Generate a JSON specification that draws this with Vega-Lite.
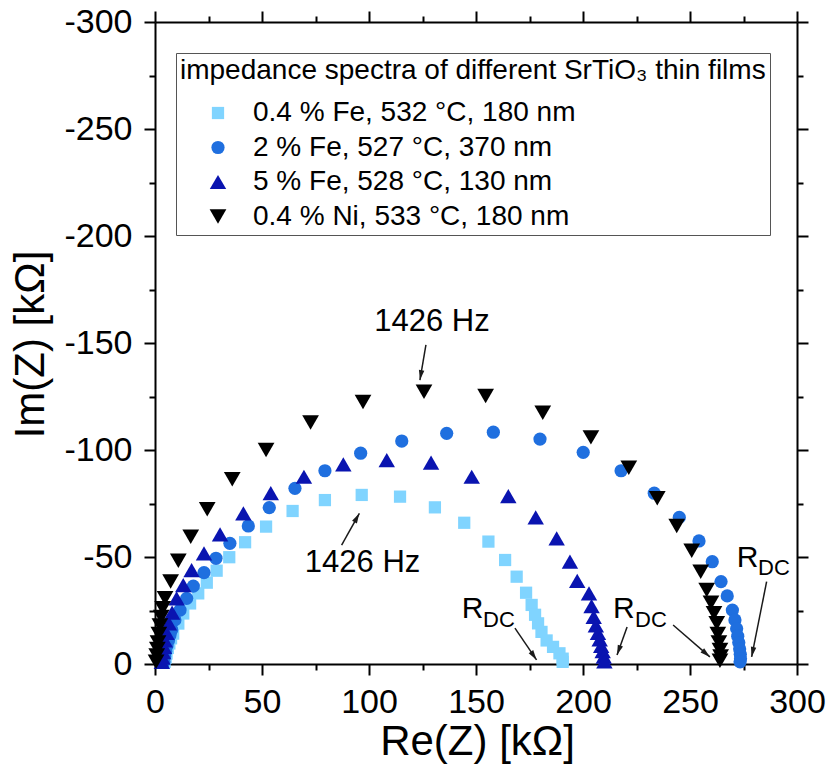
{
  "$schema": "https://vega.github.io/schema/vega-lite/v6.json",
  "width": 642,
  "height": 642,
  "autosize": {"type": "none"},
  "padding": {"left": 155, "top": 22, "right": 34, "bottom": 101},
  "config": {
    "font": "Liberation Sans",
    "view": {"stroke": null},
    "axis": {
      "domainColor": "black", "domainWidth": 2, "tickColor": "black", "tickWidth": 2,
      "labelColor": "black", "labelFontSize": 34, "labelFont": "Liberation Sans",
      "titleFontSize": 42, "titleFontWeight": "normal", "titleColor": "black", "titleFont": "Liberation Sans",
      "grid": false
    }
  },
  "datasets": {
    "points": [
      {"sample": "0.4 % Fe, 532 °C, 180 nm", "re": 4.5, "im": -1},
      {"sample": "0.4 % Fe, 532 °C, 180 nm", "re": 5.0, "im": -3},
      {"sample": "0.4 % Fe, 532 °C, 180 nm", "re": 5.4, "im": -4.9},
      {"sample": "0.4 % Fe, 532 °C, 180 nm", "re": 6.0, "im": -7.5},
      {"sample": "0.4 % Fe, 532 °C, 180 nm", "re": 6.7, "im": -9.6},
      {"sample": "0.4 % Fe, 532 °C, 180 nm", "re": 7.5, "im": -12},
      {"sample": "0.4 % Fe, 532 °C, 180 nm", "re": 8.5, "im": -14.2},
      {"sample": "0.4 % Fe, 532 °C, 180 nm", "re": 10.9, "im": -18.9},
      {"sample": "0.4 % Fe, 532 °C, 180 nm", "re": 13.2, "im": -23.6},
      {"sample": "0.4 % Fe, 532 °C, 180 nm", "re": 16.4, "im": -28.3},
      {"sample": "0.4 % Fe, 532 °C, 180 nm", "re": 20.2, "im": -33},
      {"sample": "0.4 % Fe, 532 °C, 180 nm", "re": 24.2, "im": -38},
      {"sample": "0.4 % Fe, 532 °C, 180 nm", "re": 28.8, "im": -43.6},
      {"sample": "0.4 % Fe, 532 °C, 180 nm", "re": 34.7, "im": -49.9},
      {"sample": "0.4 % Fe, 532 °C, 180 nm", "re": 42.1, "im": -56.9},
      {"sample": "0.4 % Fe, 532 °C, 180 nm", "re": 51.9, "im": -64.2},
      {"sample": "0.4 % Fe, 532 °C, 180 nm", "re": 64.3, "im": -71.5},
      {"sample": "0.4 % Fe, 532 °C, 180 nm", "re": 79.4, "im": -76.6},
      {"sample": "0.4 % Fe, 532 °C, 180 nm", "re": 96.6, "im": -79},
      {"sample": "0.4 % Fe, 532 °C, 180 nm", "re": 114.5, "im": -78.2},
      {"sample": "0.4 % Fe, 532 °C, 180 nm", "re": 130.8, "im": -73.2},
      {"sample": "0.4 % Fe, 532 °C, 180 nm", "re": 144.5, "im": -66},
      {"sample": "0.4 % Fe, 532 °C, 180 nm", "re": 155.8, "im": -57.2},
      {"sample": "0.4 % Fe, 532 °C, 180 nm", "re": 163.6, "im": -48.6},
      {"sample": "0.4 % Fe, 532 °C, 180 nm", "re": 169.0, "im": -40.8},
      {"sample": "0.4 % Fe, 532 °C, 180 nm", "re": 173.4, "im": -33.3},
      {"sample": "0.4 % Fe, 532 °C, 180 nm", "re": 176.0, "im": -27.6},
      {"sample": "0.4 % Fe, 532 °C, 180 nm", "re": 177.6, "im": -23},
      {"sample": "0.4 % Fe, 532 °C, 180 nm", "re": 179.0, "im": -19},
      {"sample": "0.4 % Fe, 532 °C, 180 nm", "re": 180.6, "im": -15},
      {"sample": "0.4 % Fe, 532 °C, 180 nm", "re": 183.0, "im": -11},
      {"sample": "0.4 % Fe, 532 °C, 180 nm", "re": 186.0, "im": -8},
      {"sample": "0.4 % Fe, 532 °C, 180 nm", "re": 189.0, "im": -5},
      {"sample": "0.4 % Fe, 532 °C, 180 nm", "re": 190.5, "im": -2.5},
      {"sample": "0.4 % Fe, 532 °C, 180 nm", "re": 190.5, "im": -1},
      {"sample": "2 % Fe, 527 °C, 370 nm", "re": 4.2, "im": -1},
      {"sample": "2 % Fe, 527 °C, 370 nm", "re": 4.5, "im": -3.5},
      {"sample": "2 % Fe, 527 °C, 370 nm", "re": 5.0, "im": -6},
      {"sample": "2 % Fe, 527 °C, 370 nm", "re": 5.6, "im": -8.5},
      {"sample": "2 % Fe, 527 °C, 370 nm", "re": 6.3, "im": -11},
      {"sample": "2 % Fe, 527 °C, 370 nm", "re": 7.0, "im": -13.5},
      {"sample": "2 % Fe, 527 °C, 370 nm", "re": 7.8, "im": -16},
      {"sample": "2 % Fe, 527 °C, 370 nm", "re": 9.3, "im": -20.6},
      {"sample": "2 % Fe, 527 °C, 370 nm", "re": 11.7, "im": -25.2},
      {"sample": "2 % Fe, 527 °C, 370 nm", "re": 14.8, "im": -30.7},
      {"sample": "2 % Fe, 527 °C, 370 nm", "re": 17.9, "im": -36.4},
      {"sample": "2 % Fe, 527 °C, 370 nm", "re": 22.9, "im": -42.7},
      {"sample": "2 % Fe, 527 °C, 370 nm", "re": 28.5, "im": -49.4},
      {"sample": "2 % Fe, 527 °C, 370 nm", "re": 35.0, "im": -56.4},
      {"sample": "2 % Fe, 527 °C, 370 nm", "re": 43.6, "im": -64.5},
      {"sample": "2 % Fe, 527 °C, 370 nm", "re": 53.4, "im": -73.1},
      {"sample": "2 % Fe, 527 °C, 370 nm", "re": 65.4, "im": -82.1},
      {"sample": "2 % Fe, 527 °C, 370 nm", "re": 79.4, "im": -90.3},
      {"sample": "2 % Fe, 527 °C, 370 nm", "re": 96.1, "im": -98.5},
      {"sample": "2 % Fe, 527 °C, 370 nm", "re": 115.3, "im": -104.2},
      {"sample": "2 % Fe, 527 °C, 370 nm", "re": 136.3, "im": -107.8},
      {"sample": "2 % Fe, 527 °C, 370 nm", "re": 158.1, "im": -108.3},
      {"sample": "2 % Fe, 527 °C, 370 nm", "re": 179.9, "im": -105.1},
      {"sample": "2 % Fe, 527 °C, 370 nm", "re": 200.1, "im": -98.9},
      {"sample": "2 % Fe, 527 °C, 370 nm", "re": 217.8, "im": -90.3},
      {"sample": "2 % Fe, 527 °C, 370 nm", "re": 233.3, "im": -79.8},
      {"sample": "2 % Fe, 527 °C, 370 nm", "re": 245.0, "im": -68.5},
      {"sample": "2 % Fe, 527 °C, 370 nm", "re": 254.2, "im": -57.5},
      {"sample": "2 % Fe, 527 °C, 370 nm", "re": 260.4, "im": -47.8},
      {"sample": "2 % Fe, 527 °C, 370 nm", "re": 264.5, "im": -38.5},
      {"sample": "2 % Fe, 527 °C, 370 nm", "re": 267.4, "im": -31.8},
      {"sample": "2 % Fe, 527 °C, 370 nm", "re": 269.8, "im": -25.2},
      {"sample": "2 % Fe, 527 °C, 370 nm", "re": 271.0, "im": -20.6},
      {"sample": "2 % Fe, 527 °C, 370 nm", "re": 271.8, "im": -16.5},
      {"sample": "2 % Fe, 527 °C, 370 nm", "re": 272.3, "im": -13},
      {"sample": "2 % Fe, 527 °C, 370 nm", "re": 272.8, "im": -10},
      {"sample": "2 % Fe, 527 °C, 370 nm", "re": 273.2, "im": -7},
      {"sample": "2 % Fe, 527 °C, 370 nm", "re": 273.5, "im": -4.5},
      {"sample": "2 % Fe, 527 °C, 370 nm", "re": 273.6, "im": -2.5},
      {"sample": "2 % Fe, 527 °C, 370 nm", "re": 273.4, "im": -1},
      {"sample": "5 % Fe, 528 °C, 130 nm", "re": 3.2, "im": -1},
      {"sample": "5 % Fe, 528 °C, 130 nm", "re": 3.5, "im": -3},
      {"sample": "5 % Fe, 528 °C, 130 nm", "re": 3.8, "im": -5.5},
      {"sample": "5 % Fe, 528 °C, 130 nm", "re": 4.2, "im": -8},
      {"sample": "5 % Fe, 528 °C, 130 nm", "re": 4.6, "im": -11},
      {"sample": "5 % Fe, 528 °C, 130 nm", "re": 5.4, "im": -14.5},
      {"sample": "5 % Fe, 528 °C, 130 nm", "re": 6.5, "im": -19},
      {"sample": "5 % Fe, 528 °C, 130 nm", "re": 8.0, "im": -24},
      {"sample": "5 % Fe, 528 °C, 130 nm", "re": 10.1, "im": -30.7},
      {"sample": "5 % Fe, 528 °C, 130 nm", "re": 13.2, "im": -36.9},
      {"sample": "5 % Fe, 528 °C, 130 nm", "re": 17.1, "im": -43.9},
      {"sample": "5 % Fe, 528 °C, 130 nm", "re": 22.9, "im": -51.7},
      {"sample": "5 % Fe, 528 °C, 130 nm", "re": 30.4, "im": -60.6},
      {"sample": "5 % Fe, 528 °C, 130 nm", "re": 41.3, "im": -70.4},
      {"sample": "5 % Fe, 528 °C, 130 nm", "re": 54.1, "im": -79.8},
      {"sample": "5 % Fe, 528 °C, 130 nm", "re": 69.6, "im": -87.5},
      {"sample": "5 % Fe, 528 °C, 130 nm", "re": 88.0, "im": -93.3},
      {"sample": "5 % Fe, 528 °C, 130 nm", "re": 108.3, "im": -95.3},
      {"sample": "5 % Fe, 528 °C, 130 nm", "re": 129.0, "im": -94.1},
      {"sample": "5 % Fe, 528 °C, 130 nm", "re": 148.0, "im": -87.5},
      {"sample": "5 % Fe, 528 °C, 130 nm", "re": 165.1, "im": -78.5},
      {"sample": "5 % Fe, 528 °C, 130 nm", "re": 177.9, "im": -68.5},
      {"sample": "5 % Fe, 528 °C, 130 nm", "re": 187.7, "im": -58.7},
      {"sample": "5 % Fe, 528 °C, 130 nm", "re": 193.9, "im": -47.8},
      {"sample": "5 % Fe, 528 °C, 130 nm", "re": 197.3, "im": -38.8},
      {"sample": "5 % Fe, 528 °C, 130 nm", "re": 202.8, "im": -33},
      {"sample": "5 % Fe, 528 °C, 130 nm", "re": 204.0, "im": -27},
      {"sample": "5 % Fe, 528 °C, 130 nm", "re": 205.0, "im": -22},
      {"sample": "5 % Fe, 528 °C, 130 nm", "re": 206.0, "im": -18},
      {"sample": "5 % Fe, 528 °C, 130 nm", "re": 207.0, "im": -14.5},
      {"sample": "5 % Fe, 528 °C, 130 nm", "re": 207.8, "im": -11.5},
      {"sample": "5 % Fe, 528 °C, 130 nm", "re": 208.5, "im": -8.5},
      {"sample": "5 % Fe, 528 °C, 130 nm", "re": 209.2, "im": -6},
      {"sample": "5 % Fe, 528 °C, 130 nm", "re": 209.7, "im": -3.5},
      {"sample": "5 % Fe, 528 °C, 130 nm", "re": 210.0, "im": -1.2},
      {"sample": "0.4 % Ni, 533 °C, 180 nm", "re": 0.5, "im": -1},
      {"sample": "0.4 % Ni, 533 °C, 180 nm", "re": 0.8, "im": -4},
      {"sample": "0.4 % Ni, 533 °C, 180 nm", "re": 1.1, "im": -7},
      {"sample": "0.4 % Ni, 533 °C, 180 nm", "re": 1.4, "im": -10},
      {"sample": "0.4 % Ni, 533 °C, 180 nm", "re": 1.8, "im": -14},
      {"sample": "0.4 % Ni, 533 °C, 180 nm", "re": 2.3, "im": -18},
      {"sample": "0.4 % Ni, 533 °C, 180 nm", "re": 2.9, "im": -22},
      {"sample": "0.4 % Ni, 533 °C, 180 nm", "re": 3.6, "im": -26},
      {"sample": "0.4 % Ni, 533 °C, 180 nm", "re": 4.7, "im": -30.7},
      {"sample": "0.4 % Ni, 533 °C, 180 nm", "re": 7.3, "im": -38.5},
      {"sample": "0.4 % Ni, 533 °C, 180 nm", "re": 10.9, "im": -48.3},
      {"sample": "0.4 % Ni, 533 °C, 180 nm", "re": 16.7, "im": -59.5},
      {"sample": "0.4 % Ni, 533 °C, 180 nm", "re": 24.4, "im": -72.3},
      {"sample": "0.4 % Ni, 533 °C, 180 nm", "re": 36.1, "im": -86.3},
      {"sample": "0.4 % Ni, 533 °C, 180 nm", "re": 51.9, "im": -100},
      {"sample": "0.4 % Ni, 533 °C, 180 nm", "re": 72.7, "im": -112.8},
      {"sample": "0.4 % Ni, 533 °C, 180 nm", "re": 97.2, "im": -122.4},
      {"sample": "0.4 % Ni, 533 °C, 180 nm", "re": 125.7, "im": -127.2},
      {"sample": "0.4 % Ni, 533 °C, 180 nm", "re": 154.5, "im": -125.2},
      {"sample": "0.4 % Ni, 533 °C, 180 nm", "re": 181.2, "im": -117.4},
      {"sample": "0.4 % Ni, 533 °C, 180 nm", "re": 203.7, "im": -105.9},
      {"sample": "0.4 % Ni, 533 °C, 180 nm", "re": 221.4, "im": -91.7},
      {"sample": "0.4 % Ni, 533 °C, 180 nm", "re": 234.7, "im": -77.4},
      {"sample": "0.4 % Ni, 533 °C, 180 nm", "re": 243.8, "im": -64.5},
      {"sample": "0.4 % Ni, 533 °C, 180 nm", "re": 250.8, "im": -52.9},
      {"sample": "0.4 % Ni, 533 °C, 180 nm", "re": 255.0, "im": -43.1},
      {"sample": "0.4 % Ni, 533 °C, 180 nm", "re": 257.8, "im": -34.6},
      {"sample": "0.4 % Ni, 533 °C, 180 nm", "re": 259.8, "im": -28.6},
      {"sample": "0.4 % Ni, 533 °C, 180 nm", "re": 261.2, "im": -23.7},
      {"sample": "0.4 % Ni, 533 °C, 180 nm", "re": 262.5, "im": -19},
      {"sample": "0.4 % Ni, 533 °C, 180 nm", "re": 263.0, "im": -14},
      {"sample": "0.4 % Ni, 533 °C, 180 nm", "re": 263.5, "im": -10},
      {"sample": "0.4 % Ni, 533 °C, 180 nm", "re": 264.0, "im": -6.5},
      {"sample": "0.4 % Ni, 533 °C, 180 nm", "re": 264.3, "im": -3.5},
      {"sample": "0.4 % Ni, 533 °C, 180 nm", "re": 264.0, "im": -1.5}
    ],
    "notes": [
      {"kind": "freq", "text": "1426 Hz", "x": 129.4, "y": -155.6},
      {"kind": "freq", "text": "1426 Hz", "x": 97.0, "y": -43.1},
      {"kind": "main", "text": "R", "x": 143.3, "y": -21.4},
      {"kind": "sub", "text": "DC", "x": 153.3, "y": -17.3},
      {"kind": "main", "text": "R", "x": 214.0, "y": -21.4},
      {"kind": "sub", "text": "DC", "x": 224.3, "y": -17.3},
      {"kind": "main", "text": "R", "x": 271.8, "y": -45.3},
      {"kind": "sub", "text": "DC", "x": 281.8, "y": -41.6}
    ],
    "arrows": [
      {"x": 126.6, "y": -149.1, "x2": 123.8, "y2": -132.7},
      {"x": 87.2, "y": -55.6, "x2": 95.5, "y2": -70.4},
      {"x": 168.2, "y": -16.8, "x2": 178.3, "y2": -1.9},
      {"x": 220.6, "y": -17.3, "x2": 215.9, "y2": -4.2},
      {"x": 242.1, "y": -18.2, "x2": 259.3, "y2": -3.3},
      {"x": 285.8, "y": -38.5, "x2": 278.8, "y2": -3.3}
    ]
  },
  "layer": [
    {
      "data": {"name": "points"},
      "mark": {"type": "point", "filled": true, "opacity": 1, "strokeWidth": 0},
      "encoding": {
        "x": {
          "field": "re", "type": "quantitative",
          "scale": {"domain": [0, 300], "nice": false, "zero": false},
          "axis": {
            "orient": "bottom",
            "values": [0, 25, 50, 75, 100, 125, 150, 175, 200, 225, 250, 275, 300],
            "labelExpr": "datum.value % 50 === 0 ? toString(datum.value) : ''",
            "tickSize": {"condition": {"test": "datum.value % 50 === 0", "value": 11}, "value": 6},
            "labelPadding": 10, "labelFlush": false, "labelOverlap": false,
            "title": "Re(Z) [kΩ]", "titleX": 322, "titleY": 90, "titleBaseline": "alphabetic", "titleAlign": "center"
          }
        },
        "y": {
          "field": "im", "type": "quantitative",
          "scale": {"domain": [-300, 0], "reverse": true, "nice": false, "zero": false},
          "axis": {
            "orient": "left",
            "values": [-300, -275, -250, -225, -200, -175, -150, -125, -100, -75, -50, -25, 0],
            "labelExpr": "datum.value % 50 === 0 ? toString(datum.value) : ''",
            "tickSize": {"condition": {"test": "datum.value % 50 === 0", "value": 11}, "value": 6},
            "labelPadding": 12, "labelFlush": false, "labelOverlap": false,
            "title": "Im(Z) [kΩ]", "titleX": -112, "titleY": 322, "titleAngle": -90, "titleBaseline": "alphabetic", "titleAlign": "center"
          }
        },
        "color": {
          "field": "sample", "type": "nominal",
          "scale": {
            "domain": ["0.4 % Fe, 532 °C, 180 nm", "2 % Fe, 527 °C, 370 nm", "5 % Fe, 528 °C, 130 nm", "0.4 % Ni, 533 °C, 180 nm"],
            "range": ["#80d4ff", "#1f6fdf", "#0a14b0", "#000000"]
          },
          "legend": {
            "title": "impedance spectra of different SrTiO₃ thin films",
            "orient": "none", "legendX": 21, "legendY": 31,
            "padding": 4, "strokeColor": "#555555", "fillColor": "white",
            "titleFontSize": 28, "titleFont": "Liberation Sans", "titleFontWeight": "normal", "titleColor": "black",
            "titlePadding": 14, "titleLimit": 2000,
            "labelFontSize": 28, "labelFont": "Liberation Sans", "labelColor": "black", "labelLimit": 2000,
            "labelOffset": 21, "symbolOffset": 24, "rowPadding": 6.5, "symbolStrokeWidth": 0
          }
        },
        "shape": {
          "field": "sample", "type": "nominal",
          "scale": {
            "domain": ["0.4 % Fe, 532 °C, 180 nm", "2 % Fe, 527 °C, 370 nm", "5 % Fe, 528 °C, 130 nm", "0.4 % Ni, 533 °C, 180 nm"],
            "range": ["square", "circle", "triangle-up", "triangle-down"]
          }
        },
        "size": {
          "field": "sample", "type": "nominal",
          "scale": {
            "type": "ordinal",
            "domain": ["0.4 % Fe, 532 °C, 180 nm", "2 % Fe, 527 °C, 370 nm", "5 % Fe, 528 °C, 130 nm", "0.4 % Ni, 533 °C, 180 nm"],
            "range": [150, 175, 270, 280]
          }
        }
      }
    },
    {
      "data": {"name": "arrows"},
      "mark": {"type": "rule", "color": "#1a1a1a", "strokeWidth": 1.5},
      "encoding": {
        "x": {
          "field": "x", "type": "quantitative",
          "scale": {"domain": [0, 300], "nice": false, "zero": false},
          "axis": {
            "orient": "top",
            "values": [0, 25, 50, 75, 100, 125, 150, 175, 200, 225, 250, 275, 300],
            "labels": false, "title": null,
            "tickSize": {"condition": {"test": "datum.value % 50 === 0", "value": 11}, "value": 6}
          }
        },
        "y": {
          "field": "y", "type": "quantitative",
          "scale": {"domain": [-300, 0], "reverse": true, "nice": false, "zero": false},
          "axis": {
            "orient": "right",
            "values": [-300, -275, -250, -225, -200, -175, -150, -125, -100, -75, -50, -25, 0],
            "labels": false, "title": null,
            "tickSize": {"condition": {"test": "datum.value % 50 === 0", "value": 11}, "value": 6}
          }
        },
        "x2": {"field": "x2"},
        "y2": {"field": "y2"}
      }
    },
    {
      "data": {"name": "arrows"},
      "transform": [{"calculate": "(atan2(datum.x2 - datum.x, datum.y - datum.y2) * 180 / PI + 360) % 360", "as": "angle"}],
      "mark": {"type": "point", "filled": true, "color": "#1a1a1a", "shape": "M0,0L-0.55,2L0.55,2Z", "size": 100, "strokeWidth": 0, "opacity": 1},
      "encoding": {
        "x": {"field": "x2", "type": "quantitative", "scale": {"domain": [0, 300], "nice": false, "zero": false}, "axis": null},
        "y": {"field": "y2", "type": "quantitative", "scale": {"domain": [-300, 0], "reverse": true, "nice": false, "zero": false}, "axis": null},
        "angle": {"field": "angle", "type": "quantitative", "scale": null}
      }
    },
    {
      "data": {"name": "notes"},
      "transform": [{"filter": "datum.kind === 'freq'"}],
      "mark": {"type": "text", "fontSize": 31, "align": "center", "baseline": "alphabetic", "color": "black"},
      "encoding": {
        "x": {"field": "x", "type": "quantitative", "scale": {"domain": [0, 300], "nice": false, "zero": false}, "axis": null},
        "y": {"field": "y", "type": "quantitative", "scale": {"domain": [-300, 0], "reverse": true, "nice": false, "zero": false}, "axis": null},
        "text": {"field": "text", "type": "nominal"}
      }
    },
    {
      "data": {"name": "notes"},
      "transform": [{"filter": "datum.kind === 'main'"}],
      "mark": {"type": "text", "fontSize": 30, "align": "left", "baseline": "alphabetic", "color": "black"},
      "encoding": {
        "x": {"field": "x", "type": "quantitative", "scale": {"domain": [0, 300], "nice": false, "zero": false}, "axis": null},
        "y": {"field": "y", "type": "quantitative", "scale": {"domain": [-300, 0], "reverse": true, "nice": false, "zero": false}, "axis": null},
        "text": {"field": "text", "type": "nominal"}
      }
    },
    {
      "data": {"name": "notes"},
      "transform": [{"filter": "datum.kind === 'sub'"}],
      "mark": {"type": "text", "fontSize": 22, "align": "left", "baseline": "alphabetic", "color": "black"},
      "encoding": {
        "x": {"field": "x", "type": "quantitative", "scale": {"domain": [0, 300], "nice": false, "zero": false}, "axis": null},
        "y": {"field": "y", "type": "quantitative", "scale": {"domain": [-300, 0], "reverse": true, "nice": false, "zero": false}, "axis": null},
        "text": {"field": "text", "type": "nominal"}
      }
    }
  ],
  "resolve": {"axis": {"x": "independent", "y": "independent"}}
}
